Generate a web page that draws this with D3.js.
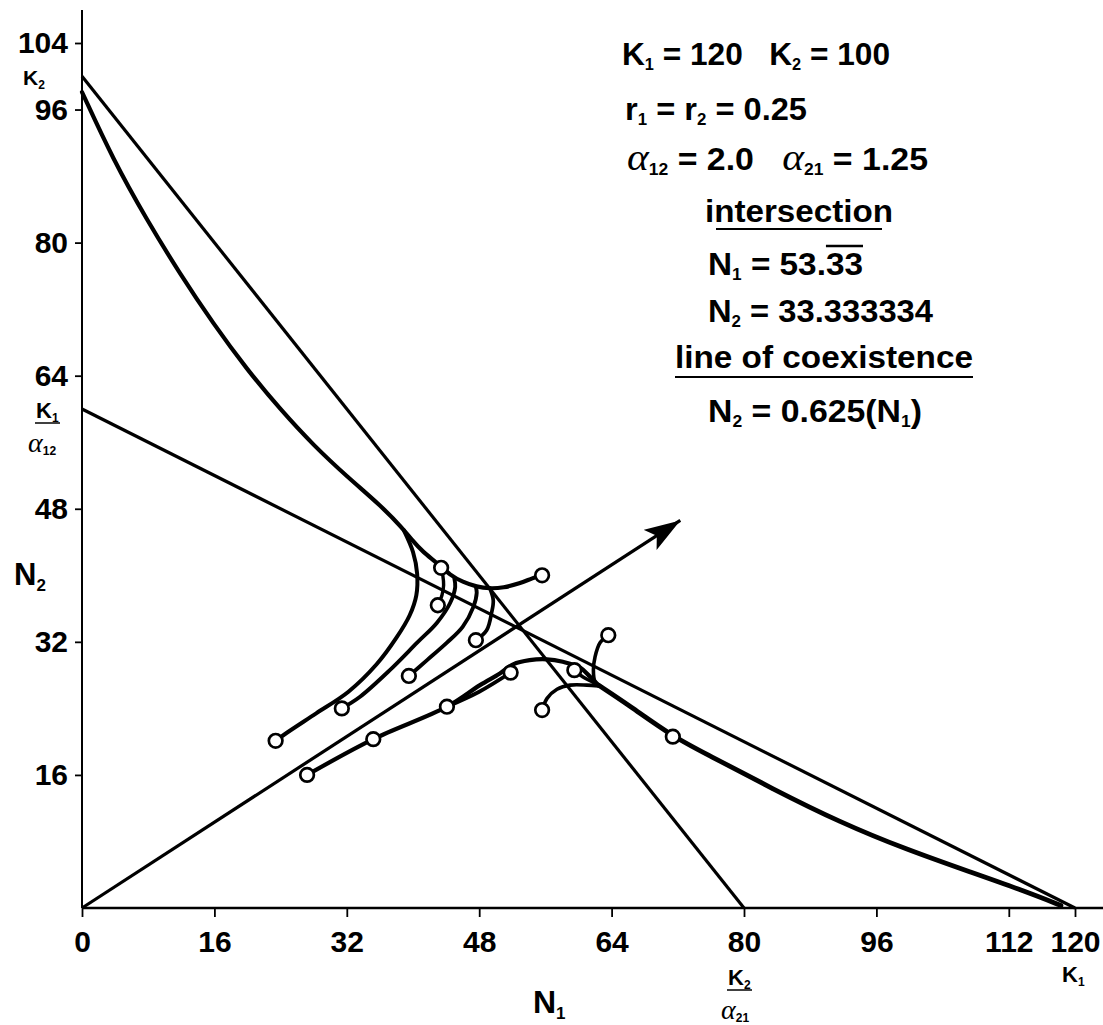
<!DOCTYPE html>
<html><head><meta charset="utf-8">
<script src="https://cdn.jsdelivr.net/npm/d3@7"></script>
<style>
html,body{margin:0;padding:0;background:#fff;}
svg{display:block;}
text{font-family:"Liberation Sans",Arial,Helvetica,sans-serif;fill:#000;}
</style></head>
<body>
<svg id="chart" width="1103" height="1025"></svg>
<script>
// ---- data ----
const xTicks = [0, 16, 32, 48, 64, 80, 96, 112, 120];
const yTicks = [16, 32, 48, 64, 80, 96, 104];

const K1 = 120, K2 = 100, alpha12 = 2.0, alpha21 = 1.25;
// isoclines
const isoN1 = [[K1, 0], [0, K1 / alpha12]];        // N1 + a12 N2 = K1
const isoN2 = [[0, K2], [K2 / alpha21, 0]];        // N2 + a21 N1 = K2
// line of coexistence (arrow), as drawn
const coexLine = [[0, 0], [72.3, 46.6]];

// trajectories (N1, N2)
const trajMainUpper = [[55.6,40.0],[54.5,39.7],[52.9,39.0],[50.9,38.5],[49.3,38.4],[47.7,38.6],[46.0,39.2],[44.5,40.0],[42.9,41.5],[41.2,42.8],[39.9,44.2],[38.7,45.7],[36.2,48.3],[32.1,51.8],[28.0,55.6],[24.0,59.9],[19.9,64.8],[15.9,70.2],[11.8,76.3],[7.8,82.8],[3.8,89.9],[0,98.1]];
const traj1 = [[23.4,20.1],[24.8,21.1],[28.3,23.4],[32.2,26.0],[35.6,29.3],[38.0,32.5],[39.6,35.2],[40.4,37.6],[40.5,40.2],[40.0,42.8],[38.9,45.4]];
const traj2 = [[31.4,24.0],[33.6,25.4],[37.2,28.6],[40.5,31.9],[42.9,34.3],[44.5,36.7],[45.1,38.6],[45.0,39.6]];
const traj3 = [[39.5,27.9],[41.7,29.8],[44.1,31.9],[46.0,33.8],[47.3,36.2],[47.7,37.9],[47.6,38.6]];
const traj4 = [[47.6,32.2],[48.9,33.4],[49.5,35.5],[49.7,37.0],[49.3,38.4]];
const traj56 = [[43.0,36.4],[43.5,37.6],[43.7,38.8],[43.6,40.0],[43.4,40.9]];
const trajLowerArc = [[27.2,16.0],[35.2,20.3],[44.1,24.2],[48.1,26.8],[50.5,28.2],[52.1,29.3],[54.1,29.8],[56.2,29.9],[58.1,29.6],[60.2,28.9],[61.4,27.8],[62.4,26.8]];
const trajLowerTail = [[62.4,26.8],[66.2,24.3],[71.4,20.6],[75.5,18.5],[83.5,14.3],[91.6,10.3],[99.7,7.0],[107.7,4.2],[113.7,2.1],[118.3,0.3]];
const traj10to11 = [[44.1,24.2],[48.0,26.0],[51.8,28.3]];
const traj12 = [[55.6,23.8],[56.2,25.2],[57.4,26.3],[59.0,26.8],[61.0,26.8],[62.4,26.7]];
const traj13 = [[59.5,28.6],[60.5,27.8],[61.8,27.1],[62.4,26.7]];
const traj14 = [[63.6,32.8],[62.6,31.9],[62.0,30.2],[61.8,28.6],[62.0,27.2],[62.6,26.7]];

// starting points (open circles)
const startPoints = [[23.4,20.1],[31.4,24.0],[39.5,27.9],[47.6,32.2],[43.4,40.9],[43.0,36.4],[55.6,40.0],
  [27.2,16.0],[35.2,20.3],[44.1,24.2],[51.8,28.3],[55.6,23.8],[59.5,28.6],[63.6,32.8],[71.4,20.6]];

// ---- drawing ----
const svg = d3.select("#chart");
const x = d3.scaleLinear().domain([0, 120]).range([82, 1075]);
const y = d3.scaleLinear().domain([0, 104]).range([908, 43]);

svg.append("defs").append("marker")
  .attr("id", "arrow").attr("markerUnits", "userSpaceOnUse")
  .attr("markerWidth", 40).attr("markerHeight", 26)
  .attr("refX", 36).attr("refY", 12).attr("orient", "auto")
  .append("path").attr("d", "M0,0 L36,12 L0,24 L8,12 Z").attr("fill", "#000");

// axes
const yAxis = d3.axisLeft(y).tickValues(yTicks).tickSize(7).tickPadding(7).tickFormat(d3.format("d"));
const gy = svg.append("g").attr("transform", `translate(${x(0)},0)`).call(yAxis);
gy.select(".domain").remove();
gy.selectAll(".tick line").attr("stroke", "#000").attr("stroke-width", 1.8);
gy.selectAll(".tick text").attr("font-size", 30).attr("font-weight", "bold")
  .attr("font-family", '"Liberation Sans",Arial,sans-serif').attr("fill", "#000");

const xAxis = d3.axisBottom(x).tickValues(xTicks).tickSize(9).tickPadding(14).tickFormat(d3.format("d"));
const gx = svg.append("g").attr("transform", `translate(0,${y(0)})`).call(xAxis);
gx.select(".domain").remove();
gx.selectAll(".tick line").attr("stroke", "#000").attr("stroke-width", 1.8);
gx.selectAll(".tick text").attr("font-size", 30).attr("font-weight", "bold")
  .attr("font-family", '"Liberation Sans",Arial,sans-serif').attr("fill", "#000");

// axis lines
svg.append("line").attr("x1", x(0)).attr("x2", x(0)).attr("y1", y(0)).attr("y2", 10)
  .attr("stroke", "#000").attr("stroke-width", 2);
svg.append("line").attr("x1", x(0)).attr("x2", 1103).attr("y1", y(0)).attr("y2", y(0))
  .attr("stroke", "#000").attr("stroke-width", 2.4);

const line = d3.line().x(d => x(d[0])).y(d => y(d[1]));
const curve = d3.line().x(d => x(d[0])).y(d => y(d[1])).curve(d3.curveCatmullRom.alpha(0.5));
const smooth = d3.line().x(d => x(d[0])).y(d => y(d[1])).curve(d3.curveBasis);

// isoclines
[isoN1, isoN2].forEach(d => {
  svg.append("path").attr("d", line(d)).attr("fill", "none").attr("stroke", "#000").attr("stroke-width", 3.2);
});
// coexistence arrow
svg.append("path").attr("d", line(coexLine)).attr("fill", "none").attr("stroke", "#000")
  .attr("stroke-width", 3.2).attr("marker-end", "url(#arrow)");

// trajectories
const trajs = [
  [trajMainUpper, 4.2, smooth], [traj1, 4, curve], [traj2, 3.9, curve], [traj3, 3.9, curve], [traj4, 3.7, curve], [traj56, 3.4, curve],
  [trajLowerArc, 4.2, curve], [trajLowerTail, 4.8, smooth], [traj10to11, 3.8, curve], [traj12, 3.6, curve], [traj13, 3.4, curve], [traj14, 3.6, curve]
];
trajs.forEach(([d, w, gen]) => {
  svg.append("path").attr("d", gen(d)).attr("fill", "none").attr("stroke", "#000")
    .attr("stroke-width", w).attr("stroke-linejoin", "round").attr("stroke-linecap", "round");
});

// start circles
svg.append("g").selectAll("circle").data(startPoints).join("circle")
  .attr("cx", d => x(d[0])).attr("cy", d => y(d[1])).attr("r", 6.8)
  .attr("fill", "#fff").attr("stroke", "#000").attr("stroke-width", 2.7);

// ---- text ----
const B = '"Liberation Sans",Arial,sans-serif';
const ALPHA = '"Liberation Serif","DejaVu Serif",serif';
const SP = "\u00a0";

function rich(g, xPos, yPos, parts, size, width) {
  const t = g.append("text").attr("x", xPos).attr("y", yPos)
    .attr("font-size", size).attr("font-weight", "bold").attr("font-family", B);
  parts.forEach(p => {
    const s = t.append("tspan").text(p.t);
    if (p.sub) s.attr("font-size", p.subSize || size * 0.55).attr("dy", p.sub);
    if (p.alpha) s.attr("font-family", ALPHA).attr("font-style", "italic").attr("font-weight", "normal").attr("font-size", p.alphaSize || size * 1.2);
    if (p.dy) s.attr("dy", p.dy);
  });
  if (width) t.attr("textLength", width).attr("lengthAdjust", "spacingAndGlyphs");
  return t;
}

const tg = svg.append("g");
const fs = 31;
rich(tg, 622, 65, [{t:"K"},{t:"1",sub:5,subSize:16},{t:" = 120"+SP+SP+SP+"K",dy:-5},{t:"2",sub:5,subSize:16},{t:" = 100",dy:-5}], fs, 268);
rich(tg, 625, 120, [{t:"r"},{t:"1",sub:5,subSize:16},{t:" = r",dy:-5},{t:"2",sub:5,subSize:16},{t:" = 0.25",dy:-5}], fs, 182);
rich(tg, 627, 170, [{t:"α",alpha:true,alphaSize:38},{t:"12",sub:5,subSize:16},{t:" = 2.0"+SP+SP+SP,dy:-5},{t:"α",alpha:true,alphaSize:38},{t:"21",sub:5,subSize:16},{t:" = 1.25",dy:-5}], fs, 301);
rich(tg, 705, 222, [{t:"intersection"}], fs, 188);
tg.append("line").attr("x1", 716).attr("x2", 882).attr("y1", 229).attr("y2", 229).attr("stroke", "#000").attr("stroke-width", 1.8);
const n1t = rich(tg, 708, 275, [{t:"N"},{t:"1",sub:5,subSize:16},{t:" = 53.",dy:-5},{t:"33"}], fs, 155);
rich(tg, 708, 322, [{t:"N"},{t:"2",sub:5,subSize:16},{t:" = 33.333334",dy:-5}], fs, 225);
rich(tg, 675, 368, [{t:"line of coexistence"}], fs, 298);
tg.append("line").attr("x1", 675).attr("x2", 973).attr("y1", 377).attr("y2", 377).attr("stroke", "#000").attr("stroke-width", 1.8);
rich(tg, 708, 422, [{t:"N"},{t:"2",sub:5,subSize:16},{t:" = 0.625(N",dy:-5},{t:"1",sub:5,subSize:16},{t:")",dy:-5}], fs, 214);
// overline over repeating "33"
{
  const node = n1t.node();
  const n = node.getNumberOfChars();
  const x1 = node.getStartPositionOfChar(n - 2).x;
  const x2 = node.getEndPositionOfChar(n - 1).x;
  tg.append("line").attr("x1", x1).attr("x2", x2).attr("y1", 246).attr("y2", 246)
    .attr("stroke", "#000").attr("stroke-width", 2.6);
}

// axis titles & special labels
rich(svg, 14, 585, [{t:"N"},{t:"2",sub:6,subSize:17}], 31);
rich(svg, 533, 1013, [{t:"N"},{t:"1",sub:6,subSize:17}], 32);
rich(svg, 23, 85, [{t:"K"},{t:"2",sub:4,subSize:12}], 21);
// K1 / alpha12 on y-axis
rich(svg, 36, 418, [{t:"K"},{t:"1",sub:4,subSize:12}], 22);
svg.append("line").attr("x1", 35).attr("x2", 60).attr("y1", 423).attr("y2", 423).attr("stroke", "#000").attr("stroke-width", 1.5);
rich(svg, 28, 452, [{t:"α",alpha:true,alphaSize:28},{t:"12",sub:3,subSize:12}], 20);
// K2 / alpha21 under 80
rich(svg, 728, 985, [{t:"K"},{t:"2",sub:4,subSize:12}], 22);
svg.append("line").attr("x1", 727).attr("x2", 752).attr("y1", 990).attr("y2", 990).attr("stroke", "#000").attr("stroke-width", 1.5);
rich(svg, 721, 1019, [{t:"α",alpha:true,alphaSize:28},{t:"21",sub:3,subSize:12}], 20);
// K1 under 120
rich(svg, 1062, 982, [{t:"K"},{t:"1",sub:4,subSize:12}], 22);
</script>
</body></html>
